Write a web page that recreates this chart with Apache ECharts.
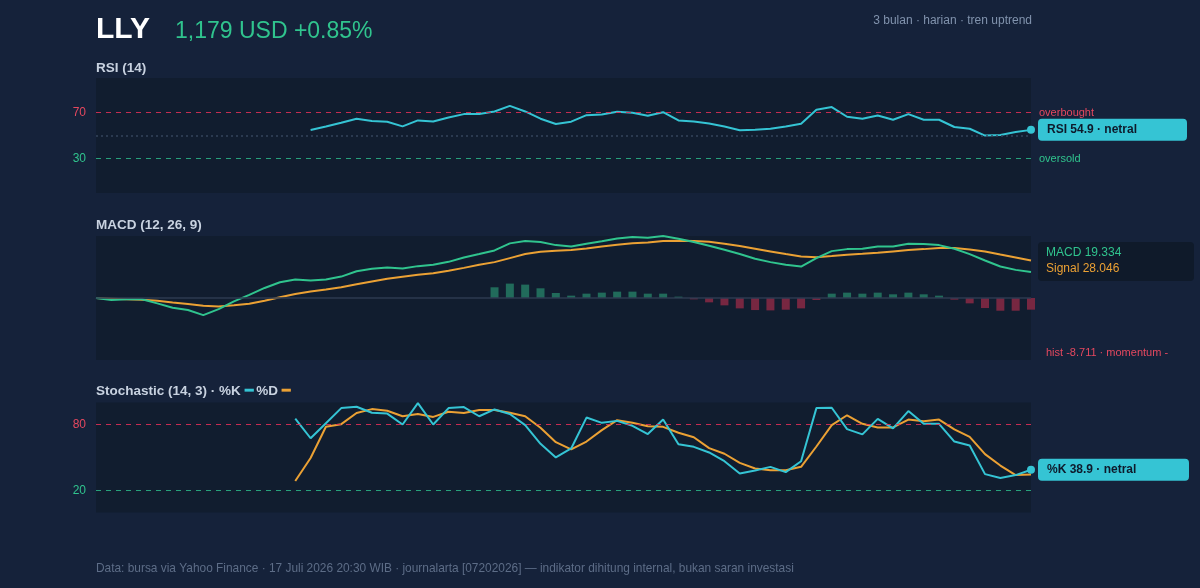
<!DOCTYPE html>
<html>
<head>
<meta charset="utf-8">
<title>LLY indikator</title>
<style>
  html, body { margin: 0; padding: 0; background: #15223a; }
  #chart { width: 1200px; height: 588px; }
</style>
<script src="https://cdn.jsdelivr.net/npm/echarts@6/dist/echarts.min.js"></script>
</head>
<body>
<div id="chart"></div>
<script>
// --- data (62 daily bars) ---
var rsiValues = [
  null, null, null, null, null, null, null, null, null, null, null, null, null, null,
  54.8, 57.9, 61.1, 64.6, 62.6, 62.0, 57.9, 63.1, 62.2, 65.7, 68.6, 68.6, 70.9, 75.8, 70.9, 64.6, 60.0, 62.0,
  67.7, 68.3, 70.6, 69.7, 67.2, 70.3, 63.1, 62.2, 60.5, 57.9, 54.5, 55.1, 55.9, 57.9, 60.2, 72.3, 74.7, 66.3,
  64.6, 67.4, 63.7, 68.6, 63.7, 63.7, 57.4, 55.9, 49.9, 50.5, 53.0, 54.9
];
var macdLine = [
  0, -1.5, -1, -1, -4, -7.3, -9, -12.8, -8.3, -2.5, 2.3, 7.5, 11.8, 13.8, 13, 13.8, 16, 20, 21.8, 22.8,
  22, 23.8, 24.8, 27, 30.3, 32.8, 35.5, 40.8, 42.5, 41.8, 39.5, 38.5,
  40.5, 42.3, 44.5, 45.5, 45, 46.3, 44.3, 41.8, 39, 36, 32.8, 29.3, 26.8, 24.8, 23.5, 29.8, 35, 36.5,
  36.8, 38.5, 38.5, 40.5, 40.3, 39.5, 36.8, 32.8, 28, 23.5, 21, 19.334
];
var signalLine = [
  0, -0.5, -1, -1.3, -2, -3.3, -4.5, -5.8, -6.3, -5.5, -4.3, -2, 0.5, 3, 4.8, 6.3, 8, 10.3, 12.3, 14.3,
  15.8, 17.3, 18.5, 20.3, 22.5, 24.8, 26.8, 29.8, 32.8, 34.5, 35.3, 35.8,
  37, 38.5, 39.8, 40.8, 41.5, 42.5, 42.8, 42.5, 42, 40.5, 38.8, 36.8, 34.8, 32.8, 31, 30.5, 31.3, 32.3,
  33, 33.8, 34.8, 35.8, 36.5, 37.3, 37.3, 36.3, 34.8, 32.5, 30.3, 28.046
];
var histValues = [
  null, null, null, null, null, null, null, null, null, null, null, null, null, null, null, null,
  null, null, null, null, null, null, null, null, null, null,
  8, 10.75, 10, 7.25, 3.75, 1.75, 3.25, 4, 4.75, 4.75, 3.25, 3.25, 1, -1, -3.25, -5.5, -7.75, -9,
  -9.25, -8.75, -7.75, -1.5, 3.25, 4, 3.25, 4, 2.75, 4, 2.75, 1.75, -1.25, -4, -7.5, -9.5, -9.5, -8.711
];
var stochK = [
  null, null, null, null, null, null, null, null, null, null, null, null, null,
  85.4, 67.5, 81.2, 94.9, 96.1, 90.7, 89.9, 80, 99.4, 80, 94.9, 95.8, 87.5, 93.7, 89.6, 79.4, 62.4, 50.1, 58.2,
  86.3, 81.5, 83.3, 78.8, 71.3, 84.5, 62.1, 59.7, 54.6, 46.6, 35.5, 38.2, 41.5, 36.7, 46.6, 94.9, 95.2, 75.8,
  71, 85.1, 76.4, 92.2, 80.6, 80.6, 64.5, 60.9, 34.9, 31.3, 34, 38.9
];
var stochD = [
  null, null, null, null, null, null, null, null, null, null, null, null, null,
  28.7, 49.6, 77.9, 80.3, 90.4, 94, 92.5, 87.5, 89.6, 86.9, 91.6, 90.4, 93.1, 93.1, 90.7, 87.5, 77, 63.9, 57.3,
  64.5, 74.9, 83.9, 81.5, 78.5, 77.9, 72.5, 68.4, 58.5, 53.4, 45.1, 40, 38.5, 38.5, 41.5, 60, 79.4, 88.4,
  80.6, 77.3, 77.3, 84.5, 83, 84.5, 75.5, 68.7, 53.1, 42.7, 34, 34.6
];
var days = macdLine.map(function(v, i) { return i; });
var rsiLevels = [70, 30];
var stochLevels = [80, 20];

var bg = '#15223a';
var plotBg = '#111d2f';
var cyan = '#35c4d4';
var green = '#30c48e';
var orange = '#eba134';
var red = '#e5485f';
var font = '"Liberation Sans", Arial, Helvetica, sans-serif';

var last = days.length - 1;

var chart = echarts.init(document.getElementById('chart'), null, { renderer: 'canvas' });

// heights picked so the dashed level lines land on half pixels (crisp 1px)
var grids = [
  { left: 96, top: 78, width: 935, height: 115 },
  { left: 96, top: 236, width: 935, height: 124 },
  { left: 96, top: 402.5, width: 935, height: 110 }
].map(function(g) {
  g.show = true;
  g.backgroundColor = plotBg;
  g.borderWidth = 0;
  return g;
});

var xAxes = [0, 1, 2].map(function(i) {
  return { type: 'category', gridIndex: i, data: days, boundaryGap: false, show: false };
});

function levelAxis(i, hi, lo) {
  return {
    type: 'value', gridIndex: i, min: 0, max: 100, interval: 10,
    splitLine: { show: false }, axisLine: { show: false }, axisTick: { show: false },
    axisLabel: {
      margin: 10, fontSize: 12, fontFamily: font,
      color: function(v) { return Number(v) === hi ? red : green; },
      formatter: function(v) { return (v === hi || v === lo) ? String(v) : ''; }
    }
  };
}

var dashRed = 'rgba(228,48,88,0.85)';
var dashGreen = 'rgba(44,190,140,0.82)';

chart.setOption({
  backgroundColor: bg,
  animation: false,
  textStyle: { fontFamily: font },
  grid: grids,
  xAxis: xAxes,
  yAxis: [
    levelAxis(0, rsiLevels[0], rsiLevels[1]),
    {
      type: 'value', gridIndex: 1,
      min: function(e) { return -Math.max(Math.abs(e.min), Math.abs(e.max)); },
      max: function(e) { return Math.max(Math.abs(e.min), Math.abs(e.max)); },
      show: false
    },
    levelAxis(2, stochLevels[0], stochLevels[1])
  ],
  series: [
    {
      name: 'RSI', type: 'line', xAxisIndex: 0, yAxisIndex: 0, data: rsiValues,
      showSymbol: false, lineStyle: { color: cyan, width: 2 }, itemStyle: { color: cyan },
      endLabel: {
        show: true, distance: 7,
        formatter: 'RSI ' + rsiValues[last].toFixed(1) + ' · netral',
        backgroundColor: cyan, borderRadius: 4, padding: [5, 9], width: 131,
        color: '#0e1a2b', fontWeight: 'bold', fontSize: 12, fontFamily: font
      },
      markPoint: {
        silent: true, symbol: 'circle', symbolSize: 8,
        itemStyle: { color: cyan }, label: { show: false },
        data: [{ coord: [last, rsiValues[last]] }]
      },
      markLine: {
        silent: true, symbol: 'none',
        label: { position: 'end', distance: 8, fontSize: 11, fontFamily: font, verticalAlign: 'middle' },
        data: [
          { yAxis: rsiLevels[0], lineStyle: { color: dashRed, type: [5, 5], width: 1 }, label: { formatter: 'overbought', color: red } },
          { yAxis: rsiLevels[1], lineStyle: { color: dashGreen, type: [5, 5], width: 1 }, label: { formatter: 'oversold', color: green } },
          { yAxis: 50, lineStyle: { color: '#34445c', type: [2, 3], width: 1.5 }, label: { show: false } }
        ]
      }
    },
    {
      name: 'hist', type: 'bar', xAxisIndex: 1, yAxisIndex: 1, data: histValues,
      barWidth: 8, clip: false,
      itemStyle: {
        color: function(p) { return p.value >= 0 ? '#216b5b' : '#772741'; }
      },
      markLine: {
        silent: true, symbol: 'none', label: { show: false },
        lineStyle: { color: '#2c3a51', type: 'solid', width: 1.5 },
        data: [{ yAxis: 0 }]
      }
    },
    {
      name: 'Signal', type: 'line', xAxisIndex: 1, yAxisIndex: 1, data: signalLine,
      showSymbol: false, lineStyle: { color: orange, width: 2 }
    },
    {
      name: 'MACD', type: 'line', xAxisIndex: 1, yAxisIndex: 1, data: macdLine,
      showSymbol: false, lineStyle: { color: green, width: 2 }
    },
    {
      name: '%D', type: 'line', xAxisIndex: 2, yAxisIndex: 2, data: stochD,
      showSymbol: false, lineStyle: { color: orange, width: 2 },
      markLine: {
        silent: true, symbol: 'none', label: { show: false },
        data: [
          { yAxis: stochLevels[0], lineStyle: { color: dashRed, type: [5, 5], width: 1 } },
          { yAxis: stochLevels[1], lineStyle: { color: dashGreen, type: [5, 5], width: 1 } }
        ]
      }
    },
    {
      name: '%K', type: 'line', xAxisIndex: 2, yAxisIndex: 2, data: stochK,
      showSymbol: false, lineStyle: { color: cyan, width: 2 }, itemStyle: { color: cyan },
      endLabel: {
        show: true, distance: 7,
        formatter: '%K ' + stochK[last].toFixed(1) + ' · netral',
        backgroundColor: cyan, borderRadius: 4, padding: [5, 9], width: 133,
        color: '#0e1a2b', fontWeight: 'bold', fontSize: 12, fontFamily: font
      },
      markPoint: {
        silent: true, symbol: 'circle', symbolSize: 8,
        itemStyle: { color: cyan }, label: { show: false },
        data: [{ coord: [last, stochK[last]] }]
      }
    }
  ],
  graphic: [
    { type: 'text', left: 96, top: 15, style: { text: 'LLY', fill: '#ffffff', font: 'bold 30px ' + font } },
    { type: 'text', left: 175, top: 20, style: { text: '1,179 USD +0.85%', fill: green, font: '23px ' + font } },
    { type: 'text', right: 168, top: 15, style: { text: '3 bulan · harian · tren uptrend', fill: '#8193ad', font: '12px ' + font } },
    { type: 'text', left: 96, top: 61, style: { text: 'RSI (14)', fill: '#c8d2e0', font: 'bold 13.5px ' + font } },
    { type: 'text', left: 96, top: 218, style: { text: 'MACD (12, 26, 9)', fill: '#c8d2e0', font: 'bold 13.5px ' + font } },
    {
      type: 'text', left: 96, top: 384,
      style: {
        text: 'Stochastic (14, 3) · %K {k|━} %D {d|━}', fill: '#c8d2e0', font: 'bold 13.5px ' + font,
        rich: { k: { fill: cyan, font: 'bold 13.5px ' + font }, d: { fill: orange, font: 'bold 13.5px ' + font } }
      }
    },
    { type: 'rect', left: 1038, top: 242, shape: { width: 156, height: 39, r: 4 }, style: { fill: '#0f1a2a' } },
    { type: 'text', left: 1046, top: 247, style: { text: 'MACD ' + macdLine[last].toFixed(3), fill: green, font: '12px ' + font } },
    { type: 'text', left: 1046, top: 263, style: { text: 'Signal ' + signalLine[last].toFixed(3), fill: orange, font: '12px ' + font } },
    { type: 'text', left: 1046, top: 347, style: { text: 'hist ' + histValues[last].toFixed(3) + ' · momentum -', fill: red, font: '11px ' + font } },
    {
      type: 'text', left: 96, top: 563,
      style: {
        text: 'Data: bursa via Yahoo Finance · 17 Juli 2026 20:30 WIB · journalarta [07202026] — indikator dihitung internal, bukan saran investasi',
        fill: '#5d6d87', font: '11.9px ' + font
      }
    }
  ]
});
window.addEventListener('resize', function() { chart.resize(); });
</script>
</body>
</html>
